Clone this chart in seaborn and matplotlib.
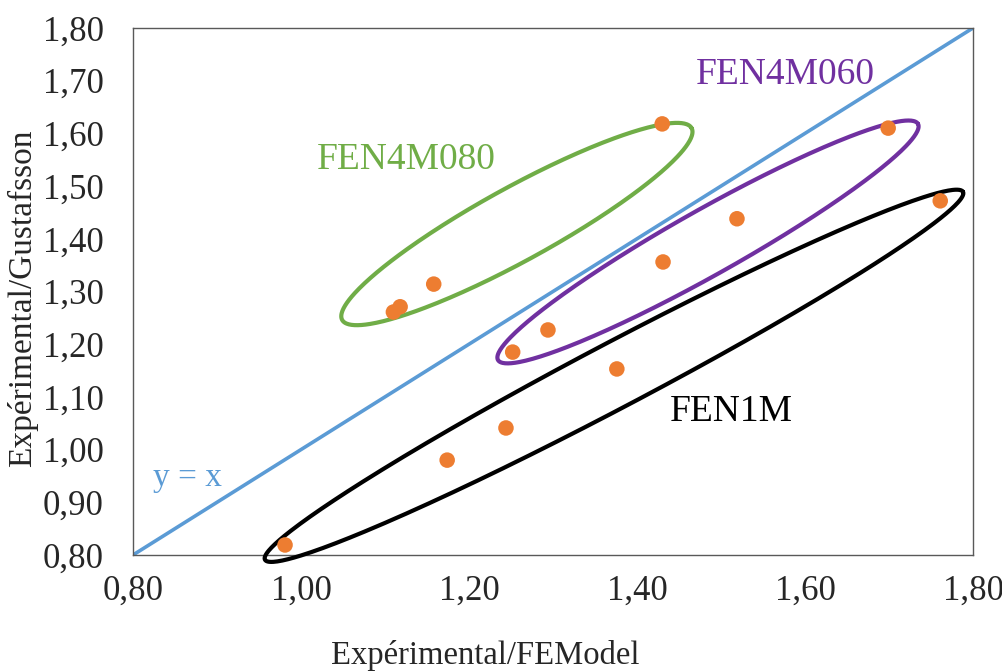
import numpy as np
import pandas as pd
import matplotlib
matplotlib.use("Agg")
import matplotlib.pyplot as plt
import seaborn as sns

# ─── Données ─────────────────────────────────────────────────────────────────
exp_fem = [0.981, 1.174, 1.244, 1.376, 1.252, 1.294, 1.431, 1.519, 1.699, 1.761,
           1.430, 1.158, 1.118, 1.110]
exp_gus = [0.819, 0.980, 1.041, 1.153, 1.185, 1.227, 1.356, 1.438, 1.610, 1.472,
           1.618, 1.314, 1.271, 1.261]
ligne_xy = [0.80, 1.80]
ticks = [0.80, 0.90, 1.00, 1.10, 1.20, 1.30, 1.40, 1.50, 1.60, 1.70, 1.80]
xticks = [0.80, 1.00, 1.20, 1.40, 1.60, 1.80]

# groupes entourés : centre, demi-grand axe, demi-petit axe (unités des données)
groupes = {
    "FEN4M080": dict(c=(1.257, 1.428), a=(0.208, 0.182), b=(0.021, -0.061),
                     couleur="#70AD47", txt=(1.125, 1.550)),
    "FEN4M060": dict(c=(1.4845, 1.394), a=(0.250, 0.224), b=(0.019, -0.054),
                     couleur="#7030A0", txt=(1.577, 1.711)),
    "FEN1M":    dict(c=(1.3726, 1.140), a=(0.4155, 0.349), b=(0.018, -0.054),
                     couleur="black", txt=(1.512, 1.071)),
}

# ─── Style ───────────────────────────────────────────────────────────────────
sns.set_style("white")
plt.rcParams["font.family"] = ["Liberation Serif", "DejaVu Serif"]

fig = plt.figure(figsize=(10.03, 6.71), dpi=100)
ax = fig.add_axes([0.1326, 0.1729, 0.8375, 0.7854])

df = pd.DataFrame({"x": exp_fem, "y": exp_gus})
sns.lineplot(x=ligne_xy, y=ligne_xy, ax=ax, color="#5B9BD5", lw=2.6, zorder=2)

t = np.linspace(0, 2 * np.pi, 400)
for nom, g in groupes.items():
    ex = g["c"][0] + g["a"][0] * np.cos(t) + g["b"][0] * np.sin(t)
    ey = g["c"][1] + g["a"][1] * np.cos(t) + g["b"][1] * np.sin(t)
    ax.plot(ex, ey, color=g["couleur"], lw=3.0, clip_on=False, zorder=3)
    ax.text(g["txt"][0], g["txt"][1], nom, color=g["couleur"], fontsize=27,
            ha="center", va="center")

sns.scatterplot(data=df, x="x", y="y", ax=ax, color="#ED7D31", s=125,
                edgecolor="none", zorder=4, clip_on=False)

ax.text(0.865, 0.946, "y = x", color="#5B9BD5", fontsize=24, ha="center", va="center")

ax.set_xlim(0.80, 1.80)
ax.set_ylim(0.80, 1.80)
ax.set_xticks(xticks)
ax.set_yticks(ticks)
ax.set_xticklabels([f"{v:.2f}".replace(".", ",") for v in xticks], fontsize=25)
ax.set_yticklabels([f"{v:.2f}".replace(".", ",") for v in ticks], fontsize=25)
ax.tick_params(axis="x", length=0, pad=14)
ax.tick_params(axis="y", length=0, pad=21)
ax.set_xlabel("Expérimental/FEModel", fontsize=23.5, va="center")
ax.set_ylabel("Expérimental/Gustafsson", fontsize=24, va="center")
ax.xaxis.set_label_coords(0.419, -0.190)
ax.yaxis.set_label_coords(-0.131, 0.487)
for s in ax.spines.values():
    s.set_color("#595959")
    s.set_linewidth(1.0)

fig.savefig("out.png", dpi=100)
plt.close(fig)
